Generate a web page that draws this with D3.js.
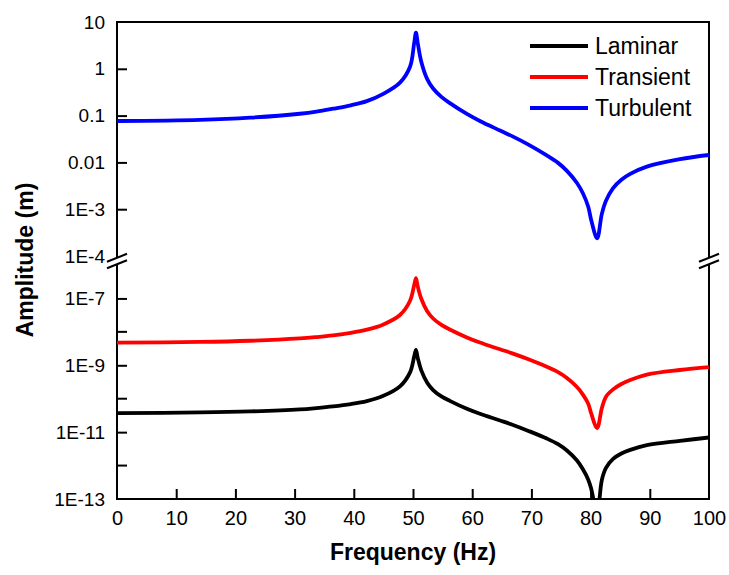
<!DOCTYPE html>
<html>
<head>
    <script src="https://cdn.jsdelivr.net/npm/d3@7"></script>
    <style>
        body { margin: 0; background: #fff; }
        svg text { font-family: "Liberation Sans", Arial, sans-serif; fill: #000; }
    </style>
</head>
<body>
<div id="visDiv"></div>
<script>
    /* Data */
    var freqs = [0, 14, 22.5, 30.9, 33.7, 36.5, 39.5, 42.2, 44.9, 47.8, 49.5, 50.2, 50.5, 50.8, 51.4, 52.4,
        53.4, 54.8, 56.3, 59.1, 61.3, 64.7, 66.9, 69.5, 72.6, 74.5, 76.0, 77.7, 78.7, 79.6, 80.1, 81.1,
        81.9, 82.6, 83.8, 85.2, 86.7, 89.5, 95.1, 100];
    var turbulent = [0.0767, 0.0811, 0.0902, 0.1096, 0.1216, 0.1403, 0.1660, 0.2042, 0.2884, 0.5070, 1.109,
        3.556, 5.902, 3.556, 1.419, 0.6026, 0.3802, 0.2512, 0.1820, 0.1084, 0.0767, 0.0479, 0.0355, 0.0240,
        0.0141, 0.00977, 0.00661, 0.00363, 0.00219, 0.00113, 0.000587, 0.000239, 0.000794, 0.00151,
        0.00282, 0.00427, 0.00569, 0.00813, 0.01175, 0.01439];
    var transient = [4.78e-9, 5.00e-9, 5.42e-9, 6.37e-9, 6.98e-9, 7.83e-9, 9.31e-9, 1.16e-8, 1.64e-8, 3.19e-8,
        8.49e-8, 2.51e-7, 4.01e-7, 2.29e-7, 9.75e-8, 4.16e-8, 2.51e-8, 1.62e-8, 1.16e-8, 6.82e-9, 4.78e-9,
        3.01e-9, 2.23e-9, 1.51e-9, 8.99e-10, 6.22e-10, 4.16e-10, 2.23e-10, 1.32e-10, 7.06e-11, 3.62e-11,
        1.32e-11, 5.24e-11, 1.15e-10, 1.90e-10, 2.75e-10, 3.62e-10, 5.24e-10, 7.23e-10, 8.79e-10];
    var laminar = [3.71e-11, 3.88e-11, 4.16e-11, 4.78e-11, 5.24e-11, 5.87e-11, 6.90e-11, 8.49e-11, 1.20e-10,
        2.34e-10, 6.15e-10, 1.82e-9, 2.89e-9, 1.66e-9, 7.06e-10, 3.01e-10, 1.82e-10, 1.17e-10, 8.49e-11,
        5.00e-11, 3.54e-11, 2.23e-11, 1.64e-11, 1.09e-11, 6.44e-12, 4.36e-12, 2.81e-12, 1.41e-12, 7.74e-13,
        3.79e-13, 2.04e-13, 3.71e-14, 3.71e-13, 8.49e-13, 1.58e-12, 2.29e-12, 2.94e-12, 4.06e-12, 5.48e-12,
        6.92e-12];

    var seriesNames = ["Laminar", "Transient", "Turbulent"];
    var seriesColors = ["#000000", "#ff0000", "#0000ff"];

    var xTicks = [0, 10, 20, 30, 40, 50, 60, 70, 80, 90, 100];
    var topTickValues = [10, 1, 0.1, 0.01, 1e-3, 1e-4];
    var topTickLabels = ["10", "1", "0.1", "0.01", "1E-3", "1E-4"];
    var botTickValues = [1e-7, 1e-9, 1e-11, 1e-13];
    var botTickLabels = ["1E-7", "1E-9", "1E-11", "1E-13"];
    var botMinorValues = [1e-8, 1e-10, 1e-12];

    /* Layout */
    var W = 729, H = 575;
    var plotLeft = 117, plotRight = 709, plotTop = 22, plotBottom = 499;
    var breakY = 261, breakGap = 3.2;

    var svg = d3.select("#visDiv").append("svg")
        .attr("width", W).attr("height", H);

    /* Scales */
    var x = d3.scaleLinear().domain([0, 100]).range([plotLeft, plotRight]);
    var yTop = d3.scaleLog().domain([1e-4, 10]).range([256, plotTop]);
    var yBot = d3.scaleLog().domain([1e-13, 1e-6]).range([plotBottom, 265]);

    /* clip regions for the two parts of the broken axis */
    var defs = svg.append("defs");
    defs.append("clipPath").attr("id", "clipTop").append("rect")
        .attr("x", plotLeft).attr("y", plotTop)
        .attr("width", plotRight - plotLeft).attr("height", yTop(1e-4) - plotTop);
    defs.append("clipPath").attr("id", "clipBot").append("rect")
        .attr("x", plotLeft).attr("y", yBot(1e-6))
        .attr("width", plotRight - plotLeft).attr("height", plotBottom - yBot(1e-6));

    /* Axes */
    var xAxis = d3.axisBottom(x).tickValues(xTicks).tickSizeInner(-10).tickSizeOuter(0).tickPadding(12);
    var gx = svg.append("g").attr("transform", "translate(0," + plotBottom + ")").call(xAxis);
    gx.select(".domain").remove();
    gx.selectAll("text").style("font-size", "20px");
    gx.selectAll("line").attr("stroke-width", 2)
        .filter(function (d) { return d === 0 || d === 100; }).remove();

    var topAxis = d3.axisLeft(yTop).tickValues(topTickValues)
        .tickFormat(function (d, i) { return topTickLabels[i]; })
        .tickSizeInner(-10).tickSizeOuter(0).tickPadding(12);
    var gyt = svg.append("g").attr("transform", "translate(" + plotLeft + ",0)").call(topAxis);
    gyt.select(".domain").remove();
    gyt.selectAll("text").style("font-size", "19px");
    gyt.selectAll("line").attr("stroke-width", 2)
        .filter(function (d) { return d === 10 || d === 1e-4; }).remove();

    var botAxis = d3.axisLeft(yBot).tickValues(botTickValues)
        .tickFormat(function (d, i) { return botTickLabels[i]; })
        .tickSizeInner(-10).tickSizeOuter(0).tickPadding(12);
    var gyb = svg.append("g").attr("transform", "translate(" + plotLeft + ",0)").call(botAxis);
    gyb.select(".domain").remove();
    gyb.selectAll("text").style("font-size", "19px");
    gyb.selectAll("line").attr("stroke-width", 2)
        .filter(function (d) { return d === 1e-13; }).remove();

    // minor ticks on the lower part
    svg.append("g").selectAll("line").data(botMinorValues).enter().append("line")
        .attr("x1", plotLeft).attr("x2", plotLeft + 10)
        .attr("y1", function (d) { return yBot(d); }).attr("y2", function (d) { return yBot(d); })
        .attr("stroke", "#000").attr("stroke-width", 2);

    /* Frame with the axis break */
    var frame = svg.append("g").attr("stroke", "#000").attr("stroke-width", 2).attr("fill", "none");
    frame.append("line").attr("x1", plotLeft - 1).attr("x2", plotRight + 1).attr("y1", plotTop).attr("y2", plotTop);
    frame.append("line").attr("x1", plotLeft - 1).attr("x2", plotRight + 1).attr("y1", plotBottom).attr("y2", plotBottom);
    [plotLeft, plotRight].forEach(function (xx) {
        frame.append("line").attr("x1", xx).attr("x2", xx).attr("y1", plotTop).attr("y2", breakY - breakGap);
        frame.append("line").attr("x1", xx).attr("x2", xx).attr("y1", breakY + breakGap).attr("y2", plotBottom);
        [-breakGap, breakGap].forEach(function (off) {
            frame.append("line")
                .attr("x1", xx - 10).attr("y1", breakY + off + 4)
                .attr("x2", xx + 10).attr("y2", breakY + off - 4);
        });
    });

    /* Lines */
    function makeLine(yScale) {
        return d3.line()
            .x(function (d) { return x(d[0]); })
            .y(function (d) { return yScale(d[1]); })
            .curve(d3.curveCatmullRom.alpha(0.5));
    }
    var allSeries = [
        { values: laminar, scale: yBot, clip: "clipBot", color: seriesColors[0] },
        { values: transient, scale: yBot, clip: "clipBot", color: seriesColors[1] },
        { values: turbulent, scale: yTop, clip: "clipTop", color: seriesColors[2] }
    ];
    allSeries.forEach(function (s) {
        svg.append("path")
            .datum(d3.zip(freqs, s.values))
            .attr("clip-path", "url(#" + s.clip + ")")
            .attr("fill", "none")
            .attr("stroke", s.color)
            .attr("stroke-width", 3.8)
            .attr("stroke-linejoin", "round")
            .attr("d", makeLine(s.scale));
    });

    /* Legend */
    var legend = svg.append("g");
    seriesNames.forEach(function (name, i) {
        var ly = 46 + i * 31;
        legend.append("line")
            .attr("x1", 530).attr("x2", 588).attr("y1", ly).attr("y2", ly)
            .attr("stroke", seriesColors[i]).attr("stroke-width", 4);
        legend.append("text")
            .attr("x", 595).attr("y", ly).attr("dy", "0.35em")
            .style("font-size", "23px")
            .text(name);
    });

    /* Axis titles */
    svg.append("text")
        .attr("x", (plotLeft + plotRight) / 2).attr("y", 560)
        .attr("text-anchor", "middle")
        .style("font-size", "23px").style("font-weight", "bold")
        .text("Frequency (Hz)");
    svg.append("text")
        .attr("transform", "translate(33," + 260 + ") rotate(-90)")
        .attr("text-anchor", "middle")
        .style("font-size", "23px").style("font-weight", "bold")
        .text("Amplitude (m)");
</script>
</body>
</html>
